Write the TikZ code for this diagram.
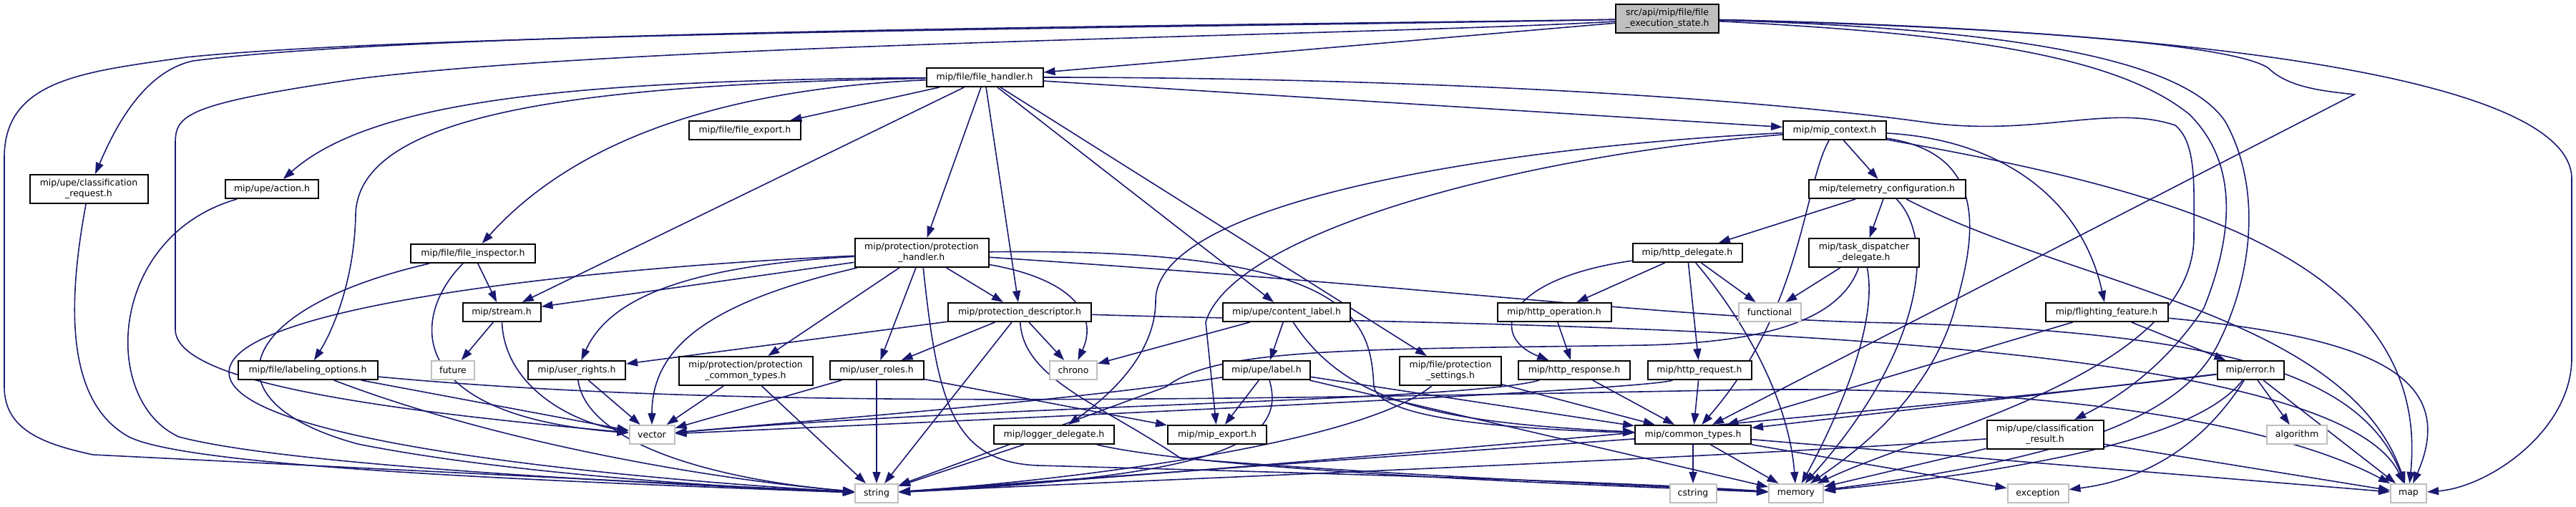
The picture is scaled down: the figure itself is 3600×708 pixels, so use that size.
\documentclass[tikz,border=0pt]{standalone}
\usepackage{fontspec}
\usetikzlibrary{arrows.meta}
\newfontfamily\dfont{DejaVu Sans}
\definecolor{edgec}{HTML}{191970}
\definecolor{sysc}{HTML}{BFBFBF}
\definecolor{topc}{HTML}{BFBFBF}
\pgfdeclarelayer{background}
\pgfsetlayers{background,main}
\tikzset{
  box/.style={draw=black, line width=2pt, fill=white, inner sep=0pt, minimum height=26pt,
    font=\dfont\fontsize{12.5}{15}\selectfont, align=center},
  box2/.style={box, minimum height=40pt},
  sys/.style={box, draw=sysc},
  e/.style={draw=edgec, line width=1.6pt, -{Triangle[length=16pt,width=11pt]}}
}
\begin{document}
\begin{tikzpicture}[x=1pt,y=-1pt]
\useasboundingbox (0,0) rectangle (3600,708);
% nodes
\node[box2, fill=topc, minimum width=144pt] (fes) at (2330,26) {src/api/mip/file/file\\\_execution\_state.h};
\node[box, minimum width=163pt] (fh) at (1376,108) {mip/file/file\_handler.h};
\node[box, minimum width=156pt] (fexport) at (1041,182) {mip/file/file\_export.h};
\node[box, minimum width=144pt] (ctx) at (2564,182) {mip/mip\_context.h};
\node[box2, minimum width=165pt] (creq) at (124,264) {mip/upe/classification\\\_request.h};
\node[box, minimum width=130pt] (action) at (380,264) {mip/upe/action.h};
\node[box, minimum width=219pt] (telem) at (2637,264) {mip/telemetry\_configuration.h};
\node[box, minimum width=174pt] (finsp) at (661,354) {mip/file/file\_inspector.h};
\node[box2, minimum width=187pt] (ph) at (1288,353) {mip/protection/protection\\\_handler.h};
\node[box, minimum width=153pt] (httpd) at (2358,353) {mip/http\_delegate.h};
\node[box2, minimum width=154pt] (tdd) at (2605,353) {mip/task\_dispatcher\\\_delegate.h};
\node[box, minimum width=109pt] (stream) at (701,436) {mip/stream.h};
\node[box, minimum width=200pt] (pd) at (1425,436) {mip/protection\_descriptor.h};
\node[box, minimum width=178pt] (clabel) at (1798,436) {mip/upe/content\_label.h};
\node[box, minimum width=159pt] (hop) at (2172,436) {mip/http\_operation.h};
\node[sys, minimum width=87pt] (functional) at (2473,436) {functional};
\node[box, minimum width=171pt] (ff) at (2944,436) {mip/flighting\_feature.h};
\node[box, minimum width=195pt] (labopt) at (430,517) {mip/file/labeling\_options.h};
\node[sys, minimum width=60pt] (future) at (633,517) {future};
\node[box, minimum width=136pt] (urights) at (806,517) {mip/user\_rights.h};
\node[box2, minimum width=187pt] (pct) at (1042,518) {mip/protection/protection\\\_common\_types.h};
\node[box, minimum width=131pt] (uroles) at (1225,517) {mip/user\_roles.h};
\node[sys, minimum width=66pt] (chrono) at (1500,517) {chrono};
\node[box, minimum width=122pt] (label) at (1770,517) {mip/upe/label.h};
\node[box2, minimum width=142pt] (pset) at (2027,518) {mip/file/protection\\\_settings.h};
\node[box, minimum width=156pt] (hresp) at (2200,517) {mip/http\_response.h};
\node[box, minimum width=145pt] (hreq) at (2375,517) {mip/http\_request.h};
\node[box, minimum width=93pt] (error) at (3145,517) {mip/error.h};
\node[sys, minimum width=63pt] (vector) at (911,607) {vector};
\node[box, minimum width=168pt] (logger) at (1473,607) {mip/logger\_delegate.h};
\node[box, minimum width=138pt] (mipexp) at (1701,607) {mip/mip\_export.h};
\node[box, minimum width=162pt] (common) at (2366,607) {mip/common\_types.h};
\node[box2, minimum width=163pt] (cresult) at (2858,607) {mip/upe/classification\\\_result.h};
\node[sys, minimum width=84pt] (algorithm) at (3210,607) {algorithm};
\node[sys, minimum width=60pt] (string) at (1225,689) {string};
\node[sys, minimum width=65pt] (cstring) at (2366,689) {cstring};
\node[sys, minimum width=76pt] (memory) at (2510,689) {memory};
\node[sys, minimum width=85pt] (exception) at (2848,689) {exception};
\node[sys, minimum width=50pt] (map) at (3366,689) {map};
\begin{pgfonlayer}{background}
% FES
\draw[e] (fes) -- (fh);
\draw[e] (fes) .. controls (1700,38) and (600,45) .. (260,80) .. controls (120,100) and (6,110) .. (6,220) -- (6,540) .. controls (6,600) and (60,620) .. (130,635) -- (string);
\draw[e] (fes) .. controls (1700,36) and (600,42) .. (270,85) .. controls (200,100) and (160,180) .. (creq);
\draw[e] (fes) .. controls (1900,50) and (900,60) .. (500,110) .. controls (260,145) and (245,160) .. (245,200) -- (245,460) .. controls (245,530) and (500,570) .. (vector);
\draw[e] (fes) .. controls (2700,35) and (3110,55) .. (3170,95) .. controls (3200,125) and (3260,128) .. (3290,132) -- (common);
\draw[e] (fes) .. controls (2700,45) and (2950,70) .. (3060,160) .. controls (3130,230) and (3120,330) .. (3080,430) .. controls (3020,520) and (2950,560) .. (cresult);
\draw[e] (fes) .. controls (2800,40) and (3050,80) .. (3110,170) .. controls (3160,260) and (3150,380) .. (3100,480) .. controls (3050,580) and (2900,640) .. (memory);
\draw[e] (fes) .. controls (3000,40) and (3594,100) .. (3594,250) -- (3594,500) .. controls (3594,600) and (3480,680) .. (map);
% FH
\draw[e] (fh) -- (fexport);
\draw[e] (fh) .. controls (800,112) and (520,140) .. (action);
\draw[e] (fh) .. controls (800,118) and (500,160) .. (497,300) .. controls (495,400) and (460,470) .. (labopt);
\draw[e] (fh) .. controls (1000,125) and (800,200) .. (finsp);
\draw[e] (fh) -- (stream);
\draw[e] (fh) -- (ph);
\draw[e] (fh) -- (pd);
\draw[e] (fh) -- (clabel);
\draw[e] (fh) -- (pset);
\draw[e] (fh) -- (ctx);
\draw[e] (fh) .. controls (1900,108) and (2400,130) .. (2700,172) .. controls (2850,190) and (2950,145) .. (3040,175) .. controls (3070,200) and (3066,260) .. (3066,330) .. controls (3066,520) and (2700,600) .. (memory);
% ctx
\draw[e] (ctx) -- (telem);
\draw[e] (ctx) .. controls (2100,205) and (1615,280) .. (1615,420) .. controls (1615,500) and (1540,560) .. (logger);
\draw[e] (ctx) .. controls (2100,220) and (1720,330) .. (1685,450) -- (mipexp);
\draw[e] (ctx) .. controls (2800,195) and (2910,280) .. (ff);
\draw[e] (ctx) .. controls (2520,260) and (2520,430) .. (common);
\draw[e] (ctx) .. controls (2780,215) and (2760,330) .. (2735,420) .. controls (2700,560) and (2580,640) .. (memory);
\draw[e] (ctx) .. controls (3000,260) and (3400,350) .. (map);
% telem
\draw[e] (telem) -- (httpd);
\draw[e] (telem) -- (tdd);
\draw[e] (telem) .. controls (2710,340) and (2680,500) .. (memory);
\draw[e] (telem) .. controls (2900,400) and (3280,440) .. (map);
% tdd
\draw[e] (tdd) -- (functional);
\draw[e] (tdd) .. controls (2625,450) and (2570,580) .. (memory);
\draw[e] (tdd) .. controls (2570,450) and (2460,478) .. (2300,482) .. controls (1900,488) and (1700,485) .. (1630,540) -- (string);
% httpd
\draw[e] (httpd) -- (hop);
\draw[e] (httpd) .. controls (2100,390) and (2080,470) .. (hresp);
\draw[e] (httpd) -- (hreq);
\draw[e] (httpd) -- (functional);
\draw[e] (httpd) .. controls (2440,450) and (2500,560) .. (memory);
\draw[e] (hop) -- (hresp);
\draw[e] (hresp) -- (common);
\draw[e] (hresp) .. controls (2050,560) and (1400,565) .. (vector);
\draw[e] (hreq) -- (common);
\draw[e] (hreq) .. controls (2300,545) and (1400,585) .. (vector);
% left side
\draw[e] (creq) .. controls (95,420) and (90,560) .. (180,610) .. controls (260,650) and (700,670) .. (string);
\draw[e] (action) .. controls (150,330) and (140,560) .. (250,610) .. controls (400,650) and (900,675) .. (string);
\draw[e] (finsp) -- (stream);
\draw[e] (finsp) .. controls (575,440) and (560,580) .. (vector);
\draw[e] (finsp) .. controls (330,430) and (280,560) .. (500,620) .. controls (700,660) and (1000,680) .. (string);
\draw[e] (stream) -- (future);
\draw[e] (stream) .. controls (705,540) and (800,590) .. (vector);
\draw[e] (labopt) -- (vector);
\draw[e] (labopt) .. controls (700,620) and (1000,670) .. (string);
\draw[e] (labopt) .. controls (1000,570) and (1600,560) .. (2400,545) .. controls (2900,535) and (3200,600) .. (map);
\draw[e] (urights) -- (vector);
\draw[e] (urights) .. controls (820,620) and (1000,670) .. (string);
\draw[e] (pct) -- (vector);
\draw[e] (pct) -- (string);
\draw[e] (uroles) -- (vector);
\draw[e] (uroles) -- (string);
\draw[e] (uroles) -- (mipexp);
% ph
\draw[e] (ph) -- (stream);
\draw[e] (ph) .. controls (950,372) and (850,420) .. (urights);
\draw[e] (ph) .. controls (1000,420) and (911,480) .. (vector);
\draw[e] (ph) .. controls (800,375) and (320,430) .. (320,520) .. controls (320,620) and (900,670) .. (string);
\draw[e] (ph) -- (pct);
\draw[e] (ph) -- (uroles);
\draw[e] (ph) -- (pd);
\draw[e] (ph) .. controls (1500,390) and (1535,440) .. (chrono);
\draw[e] (ph) .. controls (1900,345) and (1915,450) .. (1920,540) .. controls (1930,590) and (2150,600) .. (common);
\draw[e] (ph) .. controls (2000,400) and (2300,440) .. (2600,450) .. controls (3100,460) and (3300,520) .. (map);
\draw[e] (ph) .. controls (1310,560) and (1330,645) .. (1450,650) .. controls (2000,665) and (2300,675) .. (memory);
% pd
\draw[e] (pd) -- (urights);
\draw[e] (pd) -- (uroles);
\draw[e] (pd) -- (chrono);
\draw[e] (pd) -- (string);
\draw[e] (pd) .. controls (1430,530) and (1540,565) .. (1650,640) .. controls (2000,668) and (2350,680) .. (memory);
\draw[e] (pd) .. controls (2000,455) and (3250,445) .. (map);
% clabel, label
\draw[e] (clabel) -- (chrono);
\draw[e] (clabel) -- (label);
\draw[e] (clabel) .. controls (1880,560) and (2000,590) .. (common);
\draw[e] (label) -- (mipexp);
\draw[e] (label) .. controls (1800,620) and (1700,665) .. (string);
\draw[e] (label) .. controls (1500,560) and (1100,590) .. (vector);
\draw[e] (label) -- (common);
\draw[e] (label) -- (memory);
\draw[e] (pset) .. controls (1900,620) and (1500,670) .. (string);
\draw[e] (pset) -- (common);
\draw[e] (logger) -- (string);
\draw[e] (logger) .. controls (1700,660) and (2300,680) .. (memory);
% common
\draw[e] (common) -- (cstring);
\draw[e] (common) -- (memory);
\draw[e] (common) -- (exception);
\draw[e] (common) -- (map);
\draw[e] (common) -- (string);
% error, ff, cresult
\draw[e] (error) -- (common);
\draw[e] (error) .. controls (2800,560) and (1700,660) .. (string);
\draw[e] (error) .. controls (3080,600) and (2900,650) .. (memory);
\draw[e] (error) .. controls (3080,620) and (3000,670) .. (exception);
\draw[e] (error) -- (algorithm);
\draw[e] (error) -- (map);
\draw[e] (ff) -- (common);
\draw[e] (ff) -- (error);
\draw[e] (ff) .. controls (3300,470) and (3440,520) .. (map);
\draw[e] (cresult) -- (memory);
\draw[e] (cresult) -- (map);
\draw[e] (cresult) .. controls (2400,640) and (1600,670) .. (string);
\end{pgfonlayer}
\end{tikzpicture}
\end{document}
